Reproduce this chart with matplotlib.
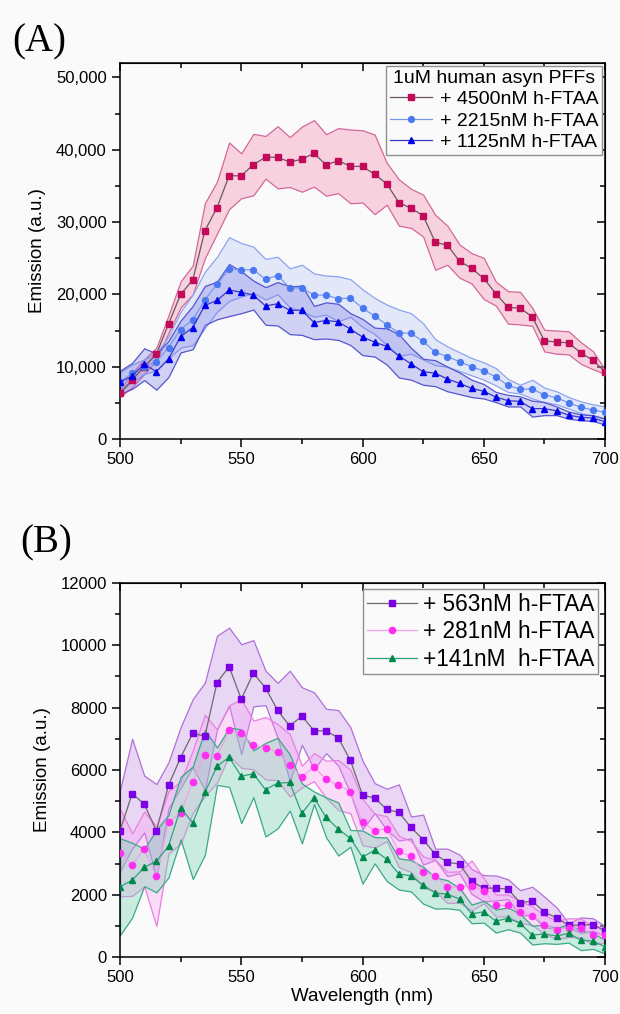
import numpy as np
import matplotlib
matplotlib.use("Agg")
import matplotlib.pyplot as plt
from matplotlib.ticker import MultipleLocator, FuncFormatter

plt.rcParams['font.family'] = ['Liberation Sans', 'DejaVu Sans']

wavelength = list(range(500, 701, 5))

# ---------- Panel A (values in thousands) ----------
a_4500_mean = [6.33, 8.17, 10.0, 11.73, 15.9, 20.0, 22.0, 28.8, 32.0, 36.4, 36.4, 37.95, 38.96, 38.96, 38.3,
               38.7, 39.5, 37.9, 38.5, 37.7, 37.7, 36.6, 35.3, 32.7, 31.9, 30.9, 27.2, 26.8, 24.6, 23.6,
               22.2, 20.1, 18.2, 18.1, 16.9, 13.6, 13.4, 13.3, 11.9, 10.9, 9.3]
a_4500_sd = [0.5, 1.0, 1.0, 0.9, 1.2, 1.8, 2.0, 3.8, 3.6, 4.6, 3.1, 4.25, 2.95, 4.3, 3.45,
             4.5, 4.6, 4.25, 4.5, 5.1, 5.0, 5.5, 2.9, 3.2, 2.7, 2.9, 3.8, 2.7, 2.3, 2.1,
             2.85, 1.65, 2.25, 2.25, 1.25, 1.5, 1.6, 1.6, 1.5, 1.25, 0.3]
a_2215_mean = [7.9, 9.1, 10.0, 10.7, 12.65, 15.14, 16.48, 19.25, 21.4, 23.5, 23.4, 23.4, 22.1, 22.6, 20.9,
               20.9, 19.9, 19.9, 19.4, 19.5, 18.1, 17.0, 15.8, 14.7, 14.6, 13.5, 12.0, 11.4, 10.7, 10.0,
               9.4, 8.6, 7.4, 6.9, 6.9, 6.1, 5.7, 5.0, 4.4, 4.0, 3.7]
a_2215_sd = [1.3, 1.2, 1.0, 1.2, 1.5, 2.5, 3.5, 3.9, 3.8, 4.4, 3.7, 3.2, 2.8, 2.6, 2.7,
             3.2, 3.0, 2.7, 3.1, 2.6, 2.6, 2.5, 2.8, 3.2, 2.8, 2.5, 1.8, 1.4, 1.3, 1.2,
             1.2, 1.2, 0.9, 0.6, 1.3, 1.0, 0.9, 0.8, 0.8, 0.8, 0.8]
a_1125_mean = [7.85, 8.73, 10.34, 9.32, 11.08, 14.17, 15.42, 18.47, 19.16, 20.6, 20.3, 19.9, 18.4, 18.7, 17.8,
               17.8, 16.1, 16.4, 16.2, 15.2, 14.1, 13.4, 12.8, 11.5, 10.4, 9.3, 9.1, 8.3, 7.7, 7.0,
               6.6, 5.8, 5.3, 5.2, 4.2, 4.2, 3.9, 3.3, 3.0, 2.9, 2.4]
a_1125_sd = [1.6, 1.8, 2.2, 2.5, 2.5, 2.2, 3.0, 2.7, 2.6, 3.6, 2.9, 2.0, 2.6, 3.0, 3.3,
             3.4, 2.3, 2.5, 2.5, 2.2, 2.5, 2.0, 2.5, 3.0, 2.2, 1.8, 1.8, 1.7, 1.5, 1.2,
             1.0, 0.7, 0.8, 0.7, 1.1, 0.9, 0.6, 0.5, 0.4, 0.4, 0.4]
a_labels = ["+ 4500nM h-FTAA", "+ 2215nM h-FTAA", "+ 1125nM h-FTAA"]
a_legend_title = "1uM human asyn PFFs"

# ---------- Panel B (values in thousands) ----------
b_563_mean = [4.05, 5.24, 4.91, 4.05, 5.51, 6.40, 7.18, 7.08, 8.80, 9.31, 8.27, 9.10, 8.63, 7.91, 7.41,
              7.73, 7.26, 7.25, 7.03, 6.31, 5.20, 5.10, 4.74, 4.64, 4.16, 3.77, 3.30, 3.04, 2.99, 2.43,
              2.21, 2.22, 2.18, 1.75, 1.80, 1.45, 1.26, 1.03, 1.03, 1.05, 0.84]
b_563_sd = [1.3, 1.76, 0.91, 1.5, 0.74, 0.97, 1.09, 1.72, 1.5, 1.25, 1.76, 1.06, 0.55, 0.88, 1.77,
            0.92, 1.23, 0.71, 0.89, 1.06, 1.1, 0.48, 0.66, 0.9, 0.35, 0.8, 0.18, 0.44, 0.3, 0.4,
            0.42, 0.4, 0.32, 0.4, 0.46, 0.49, 0.34, 0.06, 0.25, 0.2, 0.16]
b_281_mean = [3.35, 2.97, 3.47, 2.6, 4.33, 4.63, 5.63, 6.47, 6.45, 7.27, 7.17, 6.8, 6.7, 6.57, 6.15,
              5.79, 6.09, 5.7, 5.52, 5.31, 4.33, 4.06, 4.12, 3.39, 3.23, 2.73, 2.62, 2.24, 2.25, 2.3,
              2.13, 1.66, 1.66, 1.46, 1.33, 1.05, 0.88, 0.95, 0.94, 0.7, 0.72]
b_281_sd = [1.4, 1.0, 1.2, 1.6, 1.0, 1.0, 1.0, 1.3, 0.85, 0.8, 1.1, 0.78, 1.0, 0.9, 1.0,
            0.35, 0.45, 0.6, 0.8, 0.7, 0.74, 0.54, 0.4, 0.5, 0.5, 0.5, 0.5, 0.5, 0.5, 0.8,
            0.4, 0.35, 0.35, 0.35, 0.3, 0.3, 0.3, 0.3, 0.3, 0.3, 0.25]
b_141_mean = [2.26, 2.47, 2.88, 3.08, 3.56, 4.78, 4.31, 5.28, 6.12, 6.41, 5.8, 5.88, 5.37, 5.58, 5.6,
              4.61, 5.11, 4.48, 4.11, 3.81, 3.21, 3.43, 3.14, 2.67, 2.61, 2.31, 2.06, 2.02, 1.87, 1.39,
              1.46, 1.16, 1.25, 1.09, 0.71, 0.75, 0.68, 0.77, 0.55, 0.52, 0.34]
b_141_sd = [1.55, 1.2, 0.6, 1.0, 1.0, 1.0, 1.8, 2.0, 0.6, 0.95, 1.5, 0.75, 1.5, 1.45, 0.9,
            0.96, 0.2, 0.64, 0.85, 0.27, 0.85, 0.42, 0.7, 0.5, 0.5, 0.59, 0.5, 0.45, 0.35, 0.3,
            0.35, 0.37, 0.35, 0.3, 0.3, 0.3, 0.25, 0.3, 0.32, 0.25, 0.22]
b_labels = ["+ 563nM h-FTAA", "+ 281nM h-FTAA", "+141nM  h-FTAA"]

BG = '#fafafa'
fig = plt.figure(figsize=(6.2, 10.14), dpi=100, facecolor=BG)
axA = fig.add_axes([120/620, 1-439/1014, 485/620, 376/1014], facecolor=BG)
axB = fig.add_axes([120/620, 1-957.3/1014, 485/620, 374.6/1014], facecolor=BG)

x = np.array(wavelength)


def draw(ax, mean, sd, scale, fill, edge, line_c, marker, mfc, ms):
    m = np.array(mean) * scale
    s = np.array(sd) * scale
    ax.fill_between(x, m - s, m + s, facecolor=fill, edgecolor=edge, linewidth=0.9, zorder=2)
    ln, = ax.plot(x, m, color=line_c, linewidth=0.9, marker=marker, markersize=ms,
                  markerfacecolor=mfc, markeredgecolor=mfc, zorder=3)
    return ln


hA = []
hA.append(draw(axA, a_4500_mean, a_4500_sd, 1000, (0.97, 0.58, 0.72, 0.40), '#d2689a', '#6a5560', 's', '#c20a58', 4))
hA.append(draw(axA, a_2215_mean, a_2215_sd, 1000, (0.62, 0.70, 0.96, 0.25), '#8ca4ee', '#7a98ee', 'o', '#4a78f0', 4.2))
hA.append(draw(axA, a_1125_mean, a_1125_sd, 1000, (0.45, 0.45, 0.90, 0.30), '#5555d0', '#3838c8', '^', '#0000ee', 4.8))

hB = []
hB.append(draw(axB, b_563_mean, b_563_sd, 1000, (0.80, 0.58, 0.93, 0.35), '#b070d8', '#6a6a6a', 's', '#7a00e6', 4))
hB.append(draw(axB, b_281_mean, b_281_sd, 1000, (1.0, 0.58, 0.96, 0.30), '#e880e0', '#f0a0ec', 'o', '#ff2ef0', 4.5))
hB.append(draw(axB, b_141_mean, b_141_sd, 1000, (0.45, 0.82, 0.68, 0.35), '#3aa888', '#30a080', '^', '#00894c', 5))

for ax in (axA, axB):
    ax.set_xlim(500, 700)
    ax.xaxis.set_major_locator(MultipleLocator(50))
    ax.xaxis.set_minor_locator(MultipleLocator(25))
    ax.tick_params(axis='both', which='both', direction='out', labelsize=12,
                   top=False, right=False, width=1.1, colors='black')
    ax.tick_params(which='major', length=6)
    ax.tick_params(which='minor', length=3.5)
    for sp in ax.spines.values():
        sp.set_linewidth(1.1)
    sx = ax.secondary_xaxis('top')
    sx.xaxis.set_major_locator(MultipleLocator(50))
    sx.xaxis.set_minor_locator(MultipleLocator(25))
    sx.tick_params(which='both', direction='in', labeltop=False, width=1.1)
    sx.tick_params(which='major', length=6)
    sx.tick_params(which='minor', length=3.5)
    sy = ax.secondary_yaxis('right')
    sy.tick_params(which='both', direction='in', labelright=False, width=1.1)
    sy.tick_params(which='major', length=6)
    sy.tick_params(which='minor', length=3.5)
    ax._sy = sy
    ax.set_ylabel("Emission (a.u.)", fontsize=13.5, labelpad=7)

axA.set_ylim(0, 52000)
axA.yaxis.set_major_locator(MultipleLocator(10000))
axA.yaxis.set_minor_locator(MultipleLocator(5000))
axA._sy.yaxis.set_major_locator(MultipleLocator(10000))
axA._sy.yaxis.set_minor_locator(MultipleLocator(5000))
axA.yaxis.set_major_formatter(FuncFormatter(lambda v, p: f"{int(v):,}"))

axB.set_ylim(0, 12000)
axB.yaxis.set_major_locator(MultipleLocator(2000))
axB.yaxis.set_minor_locator(MultipleLocator(1000))
axB._sy.yaxis.set_major_locator(MultipleLocator(2000))
axB._sy.yaxis.set_minor_locator(MultipleLocator(1000))
axB.yaxis.set_major_formatter(FuncFormatter(lambda v, p: f"{int(v)}"))
axB.set_xlabel("Wavelength (nm)", fontsize=13.5, labelpad=2)

legA = axA.legend(hA, a_labels, title=a_legend_title, loc='upper right', fontsize=14,
                  title_fontsize=14, frameon=True, fancybox=False, edgecolor='#909090',
                  facecolor=BG, framealpha=1, handlelength=2.15, handletextpad=0.4,
                  borderpad=0.2, labelspacing=0.2, borderaxespad=0.15)
legA.get_frame().set_linewidth(1.0)

legB = axB.legend(hB, b_labels, loc='upper right', fontsize=16.3, frameon=True, fancybox=False,
                  edgecolor='#909090', facecolor=BG, framealpha=1, handlelength=2.2,
                  handletextpad=0.3, borderpad=0.15, labelspacing=0.2, borderaxespad=0.3)
legB.get_frame().set_linewidth(1.0)

fig.text(12/620, 1-51/1014, "(A)", fontsize=28, family=['Liberation Serif', 'DejaVu Serif'])
fig.text(20/620, 1-552/1014, "(B)", fontsize=28, family=['Liberation Serif', 'DejaVu Serif'])

fig.savefig("out.png", dpi=100, facecolor=BG)
